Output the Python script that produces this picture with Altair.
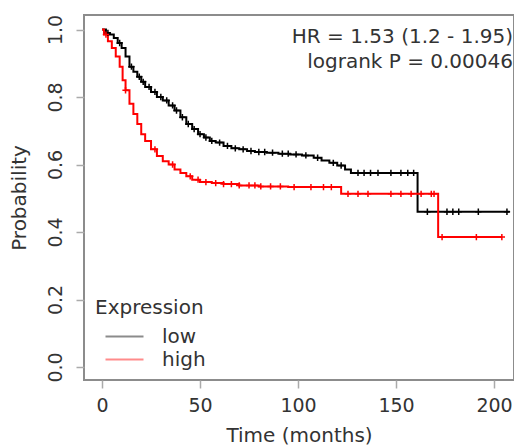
import altair as alt
import pandas as pd
import numpy as np

# Kaplan-Meier step points
low_t = [0, 2, 4, 6, 8, 10, 12, 14, 16, 18, 20, 22, 25, 28, 31, 34, 37, 40, 43, 46, 49,
         52, 55, 58, 62, 66, 70, 74, 78, 84, 90, 96, 102, 108, 112, 116, 120, 124, 127, 161, 208]
low_s = [1.0, 0.99, 0.985, 0.975, 0.96, 0.945, 0.92, 0.89, 0.875, 0.86, 0.845, 0.83, 0.815,
         0.80, 0.79, 0.775, 0.76, 0.74, 0.72, 0.705, 0.69, 0.68, 0.67, 0.665, 0.655, 0.648,
         0.645, 0.64, 0.637, 0.635, 0.632, 0.63, 0.627, 0.62, 0.612, 0.605, 0.597, 0.585,
         0.575, 0.46, 0.46]
high_t = [0, 1, 3, 5, 7, 9, 10.5, 12, 14, 16, 18, 20, 22, 25, 28, 31, 34, 37, 40, 43, 46,
          50, 56, 62, 70, 80, 95, 122, 171.5, 204]
high_s = [1.0, 0.985, 0.965, 0.945, 0.92, 0.89, 0.85, 0.82, 0.78, 0.75, 0.72, 0.69, 0.67,
          0.645, 0.625, 0.61, 0.60, 0.585, 0.575, 0.565, 0.555, 0.548, 0.545, 0.542, 0.538,
          0.535, 0.533, 0.513, 0.385, 0.385]

# censoring times
low_cens = [3, 9, 15, 19, 21, 24, 27, 30, 33, 36, 38, 41, 44, 47, 50, 53, 56, 60, 64, 68,
            72, 76, 80, 83, 87, 92, 95, 99, 104, 110, 118, 122, 130.6, 133.7, 137, 140.8,
            147.4, 152.5, 156, 159, 166, 176, 179, 182, 192, 206.6]
high_cens = [2, 12, 27, 36, 45, 49, 53, 58, 62, 66, 70, 75, 78, 81, 86, 91, 98, 106.6, 113,
             117, 125.5, 130.6, 135.7, 147.4, 152.5, 157.7, 162.8, 168, 169.4, 173.5, 191, 204]

groups = ["low", "high"]
colors = ["#000000", "#ff0000"]
hr_lines = ["HR = 1.53 (1.2 - 1.95)", "logrank P = 0.00046"]


def step_value(ts, ss, t):
    i = np.searchsorted(np.array(ts), t, side="right") - 1
    return ss[max(i, 0)]


curves = pd.concat([
    pd.DataFrame({"t": low_t, "s": low_s, "g": "low"}),
    pd.DataFrame({"t": high_t, "s": high_s, "g": "high"}),
])
cens = pd.concat([
    pd.DataFrame({"t": low_cens, "s": [step_value(low_t, low_s, t) for t in low_cens], "g": "low"}),
    pd.DataFrame({"t": high_cens, "s": [step_value(high_t, high_s, t) for t in high_cens], "g": "high"}),
])

FONT = "DejaVu Sans"
TXT = "#333333"

xs = alt.Scale(domain=[-9.2, 210.2], nice=False, zero=False)
ys = alt.Scale(domain=[-0.0385, 1.043], nice=False, zero=False)
cs = alt.Scale(domain=groups, range=colors)

x_enc = alt.X("t:Q", scale=xs, axis=alt.Axis(values=[0, 50, 100, 150, 200], title="Time (months)",
                                            format="d", grid=False, domain=False))
y_enc = alt.Y("s:Q", scale=ys, axis=alt.Axis(values=[0, 0.2, 0.4, 0.6, 0.8, 1.0], title="Probability",
                                            format=".1f", grid=False, domain=False, labelAngle=270))

lines = alt.Chart(curves).mark_line(interpolate="step-after", strokeWidth=2).encode(
    x=x_enc, y=y_enc,
    color=alt.Color("g:N", scale=cs, sort=groups,
                    legend=alt.Legend(title="Expression", orient="none", legendX=11, legendY=283,
                                      symbolType="M0,0L4,0", symbolSize=361, symbolStrokeWidth=2,
                                      symbolOpacity=0.45, labelOffset=46, rowPadding=2,
                                      titlePadding=8)),
    detail="g:N",
)

marks = alt.Chart(cens).mark_point(shape="M-1,0L1,0M0,-1L0,1", size=40, strokeWidth=1.5,
                                    filled=False, opacity=1).encode(
    x=alt.X("t:Q", scale=xs), y=alt.Y("s:Q", scale=ys),
    color=alt.Color("g:N", scale=cs, legend=None),
)

txt_df = pd.DataFrame({"label": hr_lines})
hr1 = alt.Chart(txt_df).transform_filter(alt.datum.label == hr_lines[0]).mark_text(
    align="right", baseline="middle", font=FONT, fontSize=20, color=TXT).encode(
    text="label:N", x=alt.value(429), y=alt.value(22))
hr2 = alt.Chart(txt_df).transform_filter(alt.datum.label == hr_lines[1]).mark_text(
    align="right", baseline="middle", font=FONT, fontSize=20, color=TXT).encode(
    text="label:N", x=alt.value(429), y=alt.value(47))

chart = alt.layer(lines, marks, hr1, hr2).properties(
    width=430, height=365,
    autosize=alt.AutoSizeParams(type="none"),
    padding={"left": 76, "top": 7, "right": 0, "bottom": 66},
).configure_view(stroke="#8c8c8c", strokeWidth=2).configure_axis(
    labelFont=FONT, titleFont=FONT, labelFontSize=19, titleFontSize=20, labelColor=TXT,
    titleColor=TXT, titleFontWeight="normal", tickColor="#aaaaaa", tickSize=8, tickWidth=1.5,
).configure_axisX(labelPadding=8, titlePadding=10).configure_axisY(
    labelPadding=11, titlePadding=17).configure_legend(
    titleFont=FONT, labelFont=FONT, titleFontSize=20, labelFontSize=20, titleColor=TXT,
    labelColor=TXT, titleFontWeight="normal",
)

chart.save("out.html", embed_options={"renderer": "svg", "actions": False})
